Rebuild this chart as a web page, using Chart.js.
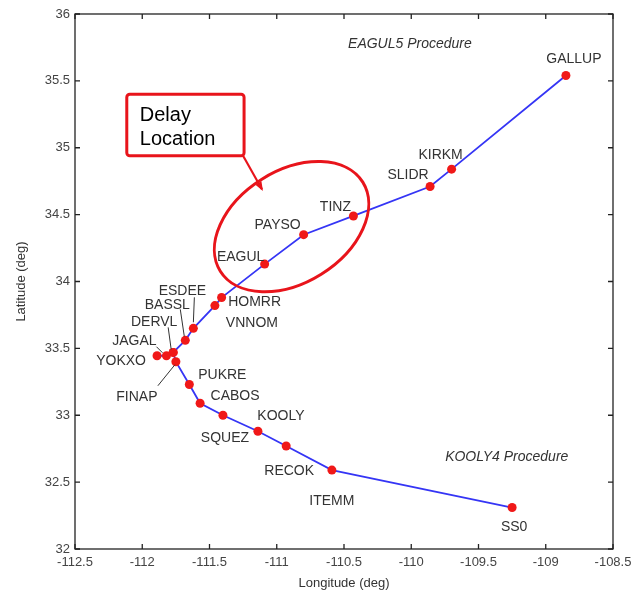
<!DOCTYPE html>
<html>
<head>
<meta charset="utf-8">
<script src="https://cdn.jsdelivr.net/npm/chart.js@4"></script>
<style>
  html, body { margin: 0; padding: 0; background: #fff; }
  #wrap { width: 639px; height: 598px; }
</style>
</head>
<body>
<div id="wrap"><canvas id="c" width="639" height="598"></canvas></div>
<script>
'use strict';

// ── Data ─────────────────────────────────────────────
const eagulNames = ['GALLUP', 'KIRKM', 'SLIDR', 'TINZ', 'PAYSO', 'EAGUL', 'HOMRR', 'VNNOM', 'ESDEE', 'BASSL', 'DERVL', 'JAGAL', 'YOKXO'];
const eagulLon   = [-108.85, -109.70, -109.86, -110.43, -110.80, -111.09, -111.41, -111.46, -111.62, -111.68, -111.77, -111.82, -111.89];
const eagulLat   = [35.54, 34.84, 34.71, 34.49, 34.35, 34.13, 33.88, 33.82, 33.65, 33.56, 33.47, 33.445, 33.445];

const koolyNames = ['DERVL', 'FINAP', 'PUKRE', 'CABOS', 'SQUEZ', 'KOOLY', 'RECOK', 'ITEMM', 'SS0'];
const koolyLon   = [-111.77, -111.75, -111.65, -111.57, -111.40, -111.14, -110.93, -110.59, -109.25];
const koolyLat   = [33.47, 33.40, 33.23, 33.09, 33.00, 32.88, 32.77, 32.59, 32.31];

const xTicks = [-112.5, -112, -111.5, -111, -110.5, -110, -109.5, -109, -108.5];
const yTicks = [32, 32.5, 33, 33.5, 34, 34.5, 35, 35.5, 36];

// label placement (pixel offsets from the waypoint), optional leader line
const labelStyle = {
    GALLUP: { dx: 8,   dy: -16 },
    KIRKM:  { dx: -11, dy: -14 },
    SLIDR:  { dx: -22, dy: -11 },
    TINZ:   { dx: -18, dy: -9 },
    PAYSO:  { dx: -26, dy: -10 },
    EAGUL:  { dx: -24, dy: -7 },
    HOMRR:  { dx: 33,  dy: 5 },
    VNNOM:  { dx: 37,  dy: 18 },
    ESDEE:  { dx: -11, dy: -37, lead: [1, -31, 0, -6] },
    BASSL:  { dx: -18, dy: -35, lead: [-5, -31, -1, -4] },
    DERVL:  { dx: -19, dy: -30, lead: [-5, -25, -2, -3] },
    JAGAL:  { dx: -32, dy: -15, lead: [-10, -9, -4, -3] },
    YOKXO:  { dx: -36, dy: 5 },
    FINAP:  { dx: -39, dy: 35, lead: [-18, 24, -1, 3] },
    PUKRE:  { dx: 33,  dy: -9 },
    CABOS:  { dx: 35,  dy: -7 },
    SQUEZ:  { dx: 2,   dy: 23 },
    KOOLY:  { dx: 23,  dy: -15 },
    RECOK:  { dx: 3,   dy: 25 },
    ITEMM:  { dx: 0,   dy: 31 },
    SS0:    { dx: 2,   dy: 20 },
};

const toPts = (lon, lat) => lon.map((x, i) => ({ x, y: lat[i] }));

// ── Plugins ──────────────────────────────────────────
const framePlugin = {
    id: 'frame',
    afterDraw(chart) {
        const { ctx, chartArea: a, scales: { x, y } } = chart;
        ctx.save();
        ctx.strokeStyle = '#222';
        ctx.lineWidth = 1.3;
        ctx.strokeRect(a.left, a.top, a.right - a.left, a.bottom - a.top);
        ctx.beginPath();
        xTicks.forEach(v => {
            const px = x.getPixelForValue(v);
            ctx.moveTo(px, a.bottom); ctx.lineTo(px, a.bottom - 5);
            ctx.moveTo(px, a.top);    ctx.lineTo(px, a.top + 5);
        });
        yTicks.forEach(v => {
            const py = y.getPixelForValue(v);
            ctx.moveTo(a.left, py);  ctx.lineTo(a.left + 5, py);
            ctx.moveTo(a.right, py); ctx.lineTo(a.right - 5, py);
        });
        ctx.stroke();
        ctx.restore();
    },
};

const labelPlugin = {
    id: 'wpLabels',
    afterDatasetsDraw(chart) {
        const { ctx, scales: { x, y } } = chart;
        ctx.save();
        ctx.font = '14px "Liberation Sans", Arial, sans-serif';
        ctx.fillStyle = '#333';
        ctx.strokeStyle = '#333';
        ctx.lineWidth = 1;
        ctx.textAlign = 'center';
        ctx.textBaseline = 'middle';
        const names = eagulNames.concat(koolyNames.slice(1));
        const lons  = eagulLon.concat(koolyLon.slice(1));
        const lats  = eagulLat.concat(koolyLat.slice(1));
        names.forEach((n, i) => {
            const s = labelStyle[n];
            const px = x.getPixelForValue(lons[i]);
            const py = y.getPixelForValue(lats[i]);
            ctx.fillText(n, px + s.dx, py + s.dy);
            if (s.lead) {
                ctx.beginPath();
                ctx.moveTo(px + s.lead[0], py + s.lead[1]);
                ctx.lineTo(px + s.lead[2], py + s.lead[3]);
                ctx.stroke();
            }
        });

        // procedure captions
        ctx.font = 'italic 14px "Liberation Sans", Arial, sans-serif';
        ctx.fillText('EAGUL5 Procedure', x.getPixelForValue(-110.01), y.getPixelForValue(35.776));
        ctx.fillText('KOOLY4 Procedure', x.getPixelForValue(-109.29), y.getPixelForValue(32.688));

        // delay location callout
        const bx0 = x.getPixelForValue(-112.115), by0 = y.getPixelForValue(35.40);
        const bx1 = x.getPixelForValue(-111.243), by1 = y.getPixelForValue(34.94);
        ctx.strokeStyle = '#e8141b';
        ctx.lineWidth = 3;
        ctx.beginPath();
        ctx.roundRect(bx0, by0, bx1 - bx0, by1 - by0, 3);
        ctx.stroke();
        ctx.fillStyle = '#000';
        ctx.font = '20px "Liberation Sans", Arial, sans-serif';
        ctx.textAlign = 'left';
        ctx.textBaseline = 'alphabetic';
        ctx.fillText('Delay', bx0 + 13, by0 + 27);
        ctx.fillText('Location', bx0 + 13, by0 + 51);

        // arrow
        const ax0 = bx1 - 1, ay0 = by1;
        const ax1 = x.getPixelForValue(-111.11), ay1 = y.getPixelForValue(34.69);
        ctx.lineWidth = 2.2;
        ctx.beginPath();
        ctx.moveTo(ax0, ay0); ctx.lineTo(ax1, ay1); ctx.stroke();
        const ang = Math.atan2(ay1 - ay0, ax1 - ax0);
        ctx.fillStyle = '#e8141b';
        ctx.beginPath();
        ctx.moveTo(ax1 + 2 * Math.cos(ang), ay1 + 2 * Math.sin(ang));
        ctx.lineTo(ax1 - 8 * Math.cos(ang - 0.45), ay1 - 8 * Math.sin(ang - 0.45));
        ctx.lineTo(ax1 - 8 * Math.cos(ang + 0.45), ay1 - 8 * Math.sin(ang + 0.45));
        ctx.closePath();
        ctx.fill();

        // ellipse
        ctx.lineWidth = 3;
        ctx.beginPath();
        ctx.ellipse(x.getPixelForValue(-110.89), y.getPixelForValue(34.41), 84, 56, -32 * Math.PI / 180, 0, Math.PI * 2);
        ctx.stroke();
        ctx.restore();
    },
};

// ── Chart ────────────────────────────────────────────
const tickFont = { family: '"Liberation Sans", Arial, sans-serif', size: 13 };

new Chart(document.getElementById('c'), {
    type: 'scatter',
    data: {
        datasets: [
            { label: 'EAGUL5', data: toPts(eagulLon, eagulLat) },
            { label: 'KOOLY4', data: toPts(koolyLon, koolyLat) },
        ].map(d => Object.assign(d, {
            showLine: true,
            borderColor: '#3535f5',
            borderWidth: 1.8,
            pointRadius: 4.5,
            pointBackgroundColor: '#f01818',
            pointBorderWidth: 0,
            pointHoverRadius: 4.5,
        })),
    },
    options: {
        responsive: false,
        animation: false,
        layout: { padding: { top: 14, right: 26, left: 0, bottom: 0 } },
        plugins: { legend: { display: false }, tooltip: { enabled: false } },
        scales: {
            x: {
                type: 'linear', min: -112.5, max: -108.5,
                afterBuildTicks: s => { s.ticks = xTicks.map(v => ({ value: v })); },
                afterFit: s => { s.height = 49; },
                grid: { display: false, drawTicks: false },
                border: { display: false },
                ticks: { color: '#444', font: tickFont, padding: 6, maxRotation: 0, autoSkip: false, callback: v => String(v) },
                title: { display: true, text: 'Longitude (deg)', color: '#333', font: tickFont, padding: { top: 4, bottom: 7 } },
            },
            y: {
                type: 'linear', min: 32, max: 36,
                afterBuildTicks: s => { s.ticks = yTicks.map(v => ({ value: v })); },
                afterFit: s => { s.width = 75; },
                grid: { display: false, drawTicks: false },
                border: { display: false },
                ticks: { color: '#444', font: tickFont, padding: 5, autoSkip: false, callback: v => String(v) },
                title: { display: true, text: 'Latitude (deg)', color: '#333', font: tickFont, padding: { top: 14, bottom: 4 } },
            },
        },
    },
    plugins: [framePlugin, labelPlugin],
});
</script>
</body>
</html>
